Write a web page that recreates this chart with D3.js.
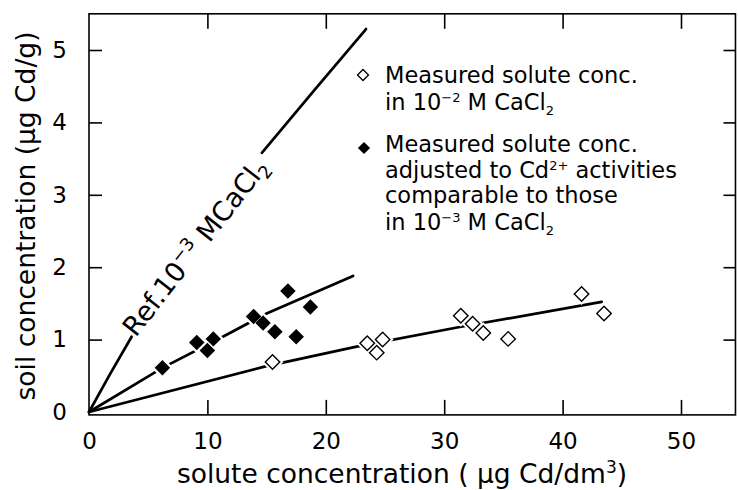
<!DOCTYPE html>
<html><head><meta charset="utf-8">
<script src="https://cdn.jsdelivr.net/npm/d3@7"></script>
<style>
body{margin:0;background:#fff}
svg{display:block}
text{font-family:"DejaVu Sans",sans-serif;fill:#000}
</style>
</head><body>
<svg id="c" width="738" height="490"></svg>
<script>
// ---- data ----
const xTickValues = [0, 10, 20, 30, 40, 50];
const yTickValues = [0, 1, 2, 3, 4, 5];

// open diamonds: measured solute conc. in 10^-2 M CaCl2
const openX = [15.5, 23.5, 24.8, 24.3, 31.4, 32.4, 33.3, 35.4, 41.6, 43.5];
const openY = [0.69, 0.95, 1.00, 0.82, 1.33, 1.22, 1.09, 1.01, 1.63, 1.36];

// filled diamonds: adjusted to Cd2+ activities comparable to 10^-3 M CaCl2
const filledX = [6.2, 9.1, 10.5, 10.0, 13.9, 14.7, 15.7, 17.5, 16.8, 18.7];
const filledY = [0.61, 0.96, 1.01, 0.85, 1.32, 1.23, 1.11, 1.04, 1.67, 1.45];

// fitted curves
const openFitX = [0, 14.9, 22.5, 31.2, 43.3];
const openFitY = [0, 0.63, 0.90, 1.17, 1.52];
const adjFitX = [0, 6.2, 11.3, 15.0, 22.3];
const adjFitY = [0, 0.61, 1.04, 1.36, 1.88];
// reference isotherm 10^-3 M CaCl2 (interrupted by its label)
const refLowX = [0, 1.8, 3.6];
const refLowY = [0, 0.53, 1.04];
const refUpX = [14.6, 19.0, 23.4];
const refUpY = [3.58, 4.44, 5.29];

const xMax = 54.6, yMin = -0.04, yMaxFrame = 5.5;

// ---- drawing ----
const svg = d3.select('#c');
const x = d3.scaleLinear([0, 50], [89, 681]);
const y = d3.scaleLinear([0, 5], [412, 50]);
const zip = (a, b) => a.map((v, i) => [v, b[i]]);
const line = d3.line().x(d => x(d[0])).y(d => y(d[1]));
const fmt = d3.format('d');

// frame
svg.append('rect')
  .attr('x', x(0)).attr('y', y(yMaxFrame))
  .attr('width', x(xMax) - x(0)).attr('height', y(yMin) - y(yMaxFrame))
  .attr('fill', 'none').attr('stroke', '#000').attr('stroke-width', 1.6);

function styleAxis(g, fs) {
  g.select('.domain').remove();
  g.attr('font-family', '"DejaVu Sans",sans-serif').attr('font-size', fs);
  g.selectAll('.tick line').attr('stroke', '#000').attr('stroke-width', 1.6);
  g.selectAll('.tick text').attr('fill', '#000');
}

svg.append('g').attr('transform', `translate(0,${y(yMin)})`)
  .call(d3.axisBottom(x).tickValues(xTickValues).tickFormat(fmt).tickSize(-15).tickPadding(18))
  .call(g => styleAxis(g, 23))
  .call(g => g.selectAll('.tick').filter(d => d === 0).select('line').remove());

svg.append('g').attr('transform', `translate(${x(0)},0)`)
  .call(d3.axisLeft(y).tickValues(yTickValues).tickFormat(fmt).tickSize(-13).tickPadding(22))
  .call(g => styleAxis(g, 23))
  .call(g => g.selectAll('.tick').filter(d => d === 0).select('line').remove());

svg.append('g').attr('transform', `translate(0,${y(yMaxFrame)})`)
  .call(d3.axisTop(x).tickValues(xTickValues.slice(1)).tickSize(-15).tickFormat(''))
  .call(g => styleAxis(g, 23));

svg.append('g').attr('transform', `translate(${x(xMax)},0)`)
  .call(d3.axisRight(y).tickValues(yTickValues.slice(1)).tickSize(-12).tickFormat(''))
  .call(g => styleAxis(g, 23));

// curves
const curves = [zip(openFitX, openFitY), zip(adjFitX, adjFitY), zip(refLowX, refLowY), zip(refUpX, refUpY)];
svg.append('g').selectAll('path').data(curves).join('path')
  .attr('d', line).attr('fill', 'none').attr('stroke', '#000')
  .attr('stroke-width', 2.7).attr('stroke-linecap', 'round');

// markers
const diamond = (s) => d3.symbol(d3.symbolSquare, s)();
const openPts = zip(openX, openY), filledPts = zip(filledX, filledY);
svg.append('g').selectAll('path').data(openPts.concat(filledPts)).join('path')
  .attr('d', diamond(240)).attr('fill', '#fff')
  .attr('transform', d => `translate(${x(d[0])},${y(d[1])}) rotate(45)`);
svg.append('g').selectAll('path').data(openPts).join('path')
  .attr('d', diamond(105)).attr('fill', '#fff').attr('stroke', '#000').attr('stroke-width', 1.4)
  .attr('transform', d => `translate(${x(d[0])},${y(d[1])}) rotate(45)`);
svg.append('g').selectAll('path').data(filledPts).join('path')
  .attr('d', diamond(120)).attr('fill', '#000')
  .attr('transform', d => `translate(${x(d[0])},${y(d[1])}) rotate(45)`);

// reference label along the curve
const p1 = [x(refLowX[refLowX.length - 1]), y(refLowY[refLowY.length - 1])];
const p2 = [x(refUpX[0]), y(refUpY[0])];
const mid = [(p1[0] + p2[0]) / 2, (p1[1] + p2[1]) / 2];
const refT = svg.append('text')
  .attr('transform', `translate(${mid[0] - 2},${mid[1] + 2}) rotate(-52)`)
  .attr('text-anchor', 'middle').attr('dy', '0.36em').attr('font-size', 27);
refT.append('tspan').text('Ref.10');
refT.append('tspan').attr('font-size', 18).attr('dy', -11).text('−3');
refT.append('tspan').attr('dy', 11).text(' MCaCl');
refT.append('tspan').attr('font-size', 18).attr('dy', 6).text('2');

// legend
svg.append('path').attr('d', diamond(60)).attr('fill', '#fff').attr('stroke', '#000').attr('stroke-width', 1.3)
  .attr('transform', 'translate(363,75) rotate(45)');
svg.append('path').attr('d', diamond(75)).attr('fill', '#000')
  .attr('transform', 'translate(364,148) rotate(45)');

const legFS = 22.5, supFS = 13;
function legendLine(yb, parts) {
  const t = svg.append('text').attr('x', 385).attr('y', yb).attr('font-size', legFS);
  parts.forEach(p => {
    const s = t.append('tspan').text(p.t);
    if (p.sup) s.attr('font-size', supFS).attr('dy', -8);
    if (p.sub) s.attr('font-size', supFS).attr('dy', 5);
    if (p.back) s.attr('dy', p.back);
  });
}
legendLine(83, [{t: 'Measured solute conc.'}]);
legendLine(110, [{t: 'in  10'}, {t: '−2', sup: true}, {t: ' M CaCl', back: 8}, {t: '2', sub: true}]);
legendLine(152, [{t: 'Measured solute conc.'}]);
legendLine(178, [{t: 'adjusted to Cd'}, {t: '2+', sup: true}, {t: ' activities', back: 8}]);
legendLine(203, [{t: 'comparable to those'}]);
legendLine(230, [{t: 'in  10'}, {t: '−3', sup: true}, {t: ' M CaCl', back: 8}, {t: '2', sub: true}]);

// axis titles
const xt = svg.append('text').attr('x', 402).attr('y', 483).attr('text-anchor', 'middle').attr('font-size', 26.5);
xt.append('tspan').text('solute concentration ( μg Cd/dm');
xt.append('tspan').attr('font-size', 17).attr('dy', -10).text('3');
xt.append('tspan').attr('dy', 10).text(')');

svg.append('text').attr('transform', 'translate(35,216) rotate(-90)')
  .attr('text-anchor', 'middle').attr('font-size', 26.5)
  .text('soil concentration (μg Cd/g)');
</script>
</body></html>
